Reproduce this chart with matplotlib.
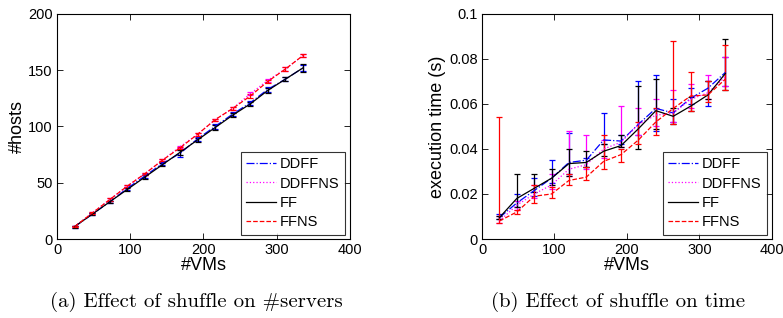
import numpy as np
import matplotlib
matplotlib.use("Agg")
import matplotlib.pyplot as plt
from matplotlib.lines import Line2D
from matplotlib.ticker import FuncFormatter

# number of VMs
vms = [24, 48, 72, 96, 120, 144, 168, 192, 216, 240, 264, 288, 312, 336]

# (a) number of hosts
hosts_ddff = [11, 22, 33, 45, 56, 67, 76, 89, 100, 111, 121, 133, 142, 152]
hosts_ddff_err = [0.8, 1, 1, 1.2, 1.5, 1.5, 3, 1.5, 2, 1.5, 2, 2, 2, 3]
hosts_ddffns = [11, 23, 35, 47, 58, 70, 82, 93, 106, 116, 129, 141, 151, 163]
hosts_ddffns_err = [0.5, 0.8, 1, 1, 1, 1, 1, 1.2, 1, 1, 1.5, 1.5, 1.5, 1]
hosts_ff = [11, 22, 33, 44, 55, 66, 77, 88, 99, 110, 120, 132, 142, 152]
hosts_ff_err = [0.8, 1, 1, 1.2, 1.5, 1.5, 2.5, 1.5, 2, 2, 2, 2, 2, 3.5]
hosts_ffns = [11, 23, 35, 47, 58, 70, 81, 93, 106, 116, 127, 140, 151, 163]
hosts_ffns_err = [0.5, 0.8, 1, 1, 1, 1, 1, 1.2, 1, 1, 1.5, 1.5, 1.5, 1]

# (b) execution time (s): mean, lower and upper ends of the error bars
t_ddff = [0.0095, 0.016, 0.0215, 0.027, 0.034, 0.035, 0.044, 0.0435, 0.051, 0.058, 0.056, 0.0625, 0.067, 0.074]
t_ddff_lo = [0.009, 0.014, 0.019, 0.025, 0.029, 0.032, 0.042, 0.042, 0.046, 0.048, 0.052, 0.060, 0.059, 0.068]
t_ddff_hi = [0.011, 0.020, 0.027, 0.035, 0.047, 0.036, 0.056, 0.046, 0.070, 0.073, 0.062, 0.067, 0.070, 0.081]

t_ddffns = [0.008, 0.015, 0.020, 0.024, 0.031, 0.033, 0.040, 0.043, 0.051, 0.055, 0.056, 0.062, 0.065, 0.072]
t_ddffns_lo = [0.007, 0.013, 0.018, 0.022, 0.028, 0.031, 0.036, 0.041, 0.046, 0.050, 0.052, 0.058, 0.062, 0.068]
t_ddffns_hi = [0.010, 0.017, 0.024, 0.029, 0.048, 0.046, 0.044, 0.059, 0.058, 0.062, 0.066, 0.069, 0.073, 0.081]

t_ff = [0.0095, 0.018, 0.0225, 0.027, 0.0335, 0.034, 0.039, 0.0415, 0.049, 0.057, 0.0545, 0.059, 0.064, 0.0735]
t_ff_lo = [0.009, 0.014, 0.021, 0.024, 0.028, 0.032, 0.037, 0.041, 0.040, 0.049, 0.051, 0.057, 0.062, 0.066]
t_ff_hi = [0.010, 0.029, 0.029, 0.031, 0.040, 0.039, 0.042, 0.046, 0.068, 0.071, 0.058, 0.063, 0.070, 0.089]

t_ffns = [0.008, 0.012, 0.019, 0.020, 0.026, 0.0275, 0.0345, 0.0375, 0.044, 0.052, 0.058, 0.0635, 0.064, 0.071]
t_ffns_lo = [0.007, 0.011, 0.016, 0.018, 0.024, 0.026, 0.031, 0.034, 0.042, 0.046, 0.051, 0.057, 0.061, 0.066]
t_ffns_hi = [0.054, 0.013, 0.024, 0.023, 0.029, 0.032, 0.046, 0.040, 0.052, 0.058, 0.088, 0.074, 0.070, 0.086]

labels = ["DDFF", "DDFFNS", "FF", "FFNS"]
colors = ["#0000ff", "#ff00ff", "#000000", "#ff0000"]
styles = ["-.", ":", "-", "--"]

plt.rcParams["font.family"] = "Liberation Sans"

fig = plt.figure(figsize=(7.83, 3.18), dpi=100)
ax1 = fig.add_axes([0.0728, 0.2484, 0.374, 0.708])
ax2 = fig.add_axes([0.6156, 0.2484, 0.370, 0.708])

x = np.array(vms)

series_a = [(hosts_ddff, hosts_ddff_err), (hosts_ddffns, hosts_ddffns_err),
            (hosts_ff, hosts_ff_err), (hosts_ffns, hosts_ffns_err)]
for (y, e), c, ls in zip(series_a, colors, styles):
    ax1.errorbar(x, y, yerr=e, color=c, ls=ls, lw=0.9, elinewidth=0.9,
                 capsize=2.5, capthick=0.9)

series_b = [(t_ddff, t_ddff_lo, t_ddff_hi), (t_ddffns, t_ddffns_lo, t_ddffns_hi),
            (t_ff, t_ff_lo, t_ff_hi), (t_ffns, t_ffns_lo, t_ffns_hi)]
for (y, lo, hi), c, ls in zip(series_b, colors, styles):
    y = np.array(y)
    err = [y - np.array(lo), np.array(hi) - y]
    ax2.errorbar(x, y, yerr=err, color=c, ls=ls, lw=0.9, elinewidth=0.9,
                 capsize=2.5, capthick=0.9)

ax1.set_xlim(0, 400)
ax1.set_ylim(0, 200)
ax1.set_xticks([0, 100, 200, 300, 400])
ax1.set_yticks([0, 50, 100, 150, 200])
ax1.set_xlabel("#VMs", fontsize=13, labelpad=0)
ax1.set_ylabel("#hosts", fontsize=13, labelpad=2)

ax2.set_xlim(0, 400)
ax2.set_ylim(0, 0.1)
ax2.set_xticks([0, 100, 200, 300, 400])
ax2.set_yticks([0, 0.02, 0.04, 0.06, 0.08, 0.1])
ax2.yaxis.set_major_formatter(FuncFormatter(lambda v, p: "%g" % round(v, 3)))
ax2.set_xlabel("#VMs", fontsize=13, labelpad=0)
ax2.set_ylabel("execution time (s)", fontsize=13, labelpad=2)

# legend shows plain lines only
handles = [Line2D([], [], color=c, ls=ls, lw=0.9) for c, ls in zip(colors, styles)]

for ax in (ax1, ax2):
    ax.tick_params(direction="in", top=True, right=True, labelsize=10.5,
                   length=4, width=0.6, pad=3)
    for s in ax.spines.values():
        s.set_linewidth(0.8)
    leg = ax.legend(handles, labels, loc="lower right", fontsize=10.5, frameon=True,
                    fancybox=False, edgecolor="black", borderaxespad=0.3,
                    handlelength=2.0, handletextpad=0.3, labelspacing=0.35,
                    borderpad=0.4)
    leg.get_frame().set_linewidth(0.8)

fig.text(0.251, 0.05, "(a) Effect of shuffle on #servers", ha="center", va="center",
         fontsize=15, family="cmr10")
fig.text(0.789, 0.05, "(b) Effect of shuffle on time", ha="center", va="center",
         fontsize=15, family="cmr10")

fig.savefig("out.png", dpi=100)
